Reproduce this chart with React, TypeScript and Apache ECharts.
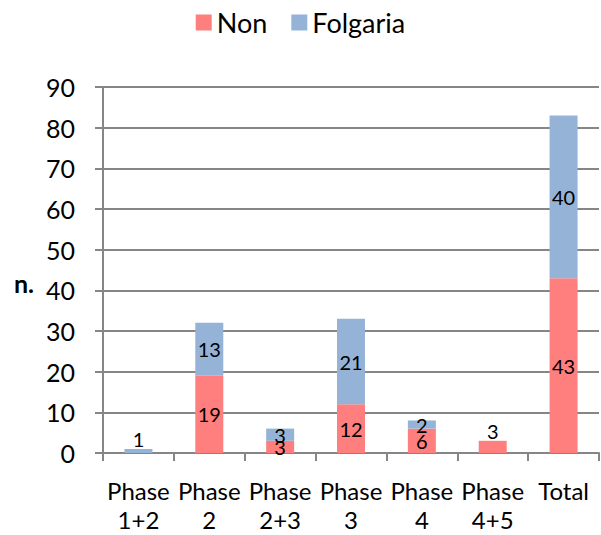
import React, { useEffect, useRef } from "react";
import * as echarts from "echarts";

const categories = ["Phase\n1+2", "Phase\n2", "Phase\n2+3", "Phase\n3", "Phase\n4", "Phase\n4+5", "Total"];
const nonValues = [0, 19, 3, 12, 6, 3, 43];
const folgariaValues = [1, 13, 3, 21, 2, 0, 40];
const labelTopNon = [false, false, false, false, false, true, false];
const labelTopFolgaria = [true, false, false, false, false, false, false];

const FONT = "Lato, 'Open Sans', sans-serif";

export default function App() {
  const ref = useRef<HTMLDivElement>(null);
  useEffect(() => {
    if (!ref.current) return;
    const chart = echarts.init(ref.current, undefined, { renderer: "svg" });
    const mk = (vals: number[], tops: boolean[]) =>
      vals.map((v, i) => ({
        value: v,
        label: tops[i] ? { position: "top", distance: 0 } : undefined,
      }));
    const labelCfg = {
      show: true,
      position: "inside",
      color: "#000",
      fontSize: 20,
      fontFamily: FONT,
      formatter: (p: any) => (p.value ? String(p.value) : ""),
    };
    chart.setOption({
      animation: false,
      textStyle: { fontFamily: FONT },
      legend: {
        top: 4,
        left: "center",
        itemWidth: 16,
        itemHeight: 16,
        itemGap: 24,
        textStyle: { fontSize: 27, color: "#000", fontFamily: FONT },
        icon: "rect",
        data: ["Non", "Folgaria"],
      },
      grid: { left: 103, right: 2, top: 87, bottom: 82, containLabel: false, outerBoundsMode: "none" },
      xAxis: {
        type: "category",
        data: categories,
        axisLine: { lineStyle: { color: "#868686", width: 2 } },
        axisTick: { show: true, length: 8, alignWithLabel: false, lineStyle: { color: "#868686", width: 2 } },
        axisLabel: { color: "#000", fontSize: 24, lineHeight: 29, margin: 23, fontFamily: FONT, interval: 0 },
      },
      yAxis: {
        type: "value",
        min: 0,
        max: 90,
        interval: 10,
        name: "n.",
        nameLocation: "middle",
        nameRotate: 0,
        nameGap: 79,
        nameTextStyle: { fontSize: 25, fontWeight: "bold", color: "#000", fontFamily: FONT, align: "center", verticalAlign: "top" },
        axisLine: { show: true, lineStyle: { color: "#868686", width: 2 } },
        axisTick: { show: true, length: 8, lineStyle: { color: "#868686", width: 2 } },
        axisLabel: { color: "#000", fontSize: 25, margin: 28, fontFamily: FONT },
        splitLine: { show: true, lineStyle: { color: "#868686", width: 2 } },
      },
      series: [
        {
          name: "Non",
          type: "bar",
          stack: "a",
          barWidth: 28,
          itemStyle: { color: "#FF7F7F" },
          label: labelCfg,
          data: mk(nonValues, labelTopNon),
        },
        {
          name: "Folgaria",
          type: "bar",
          stack: "a",
          barWidth: 28,
          itemStyle: { color: "#95B3D7" },
          label: labelCfg,
          data: mk(folgariaValues, labelTopFolgaria),
        },
      ],
    });
    return () => chart.dispose();
  }, []);
  return <div ref={ref} style={{ width: 601, height: 535, position: "absolute", left: 0, top: 0, background: "#fff" }} />;
}
